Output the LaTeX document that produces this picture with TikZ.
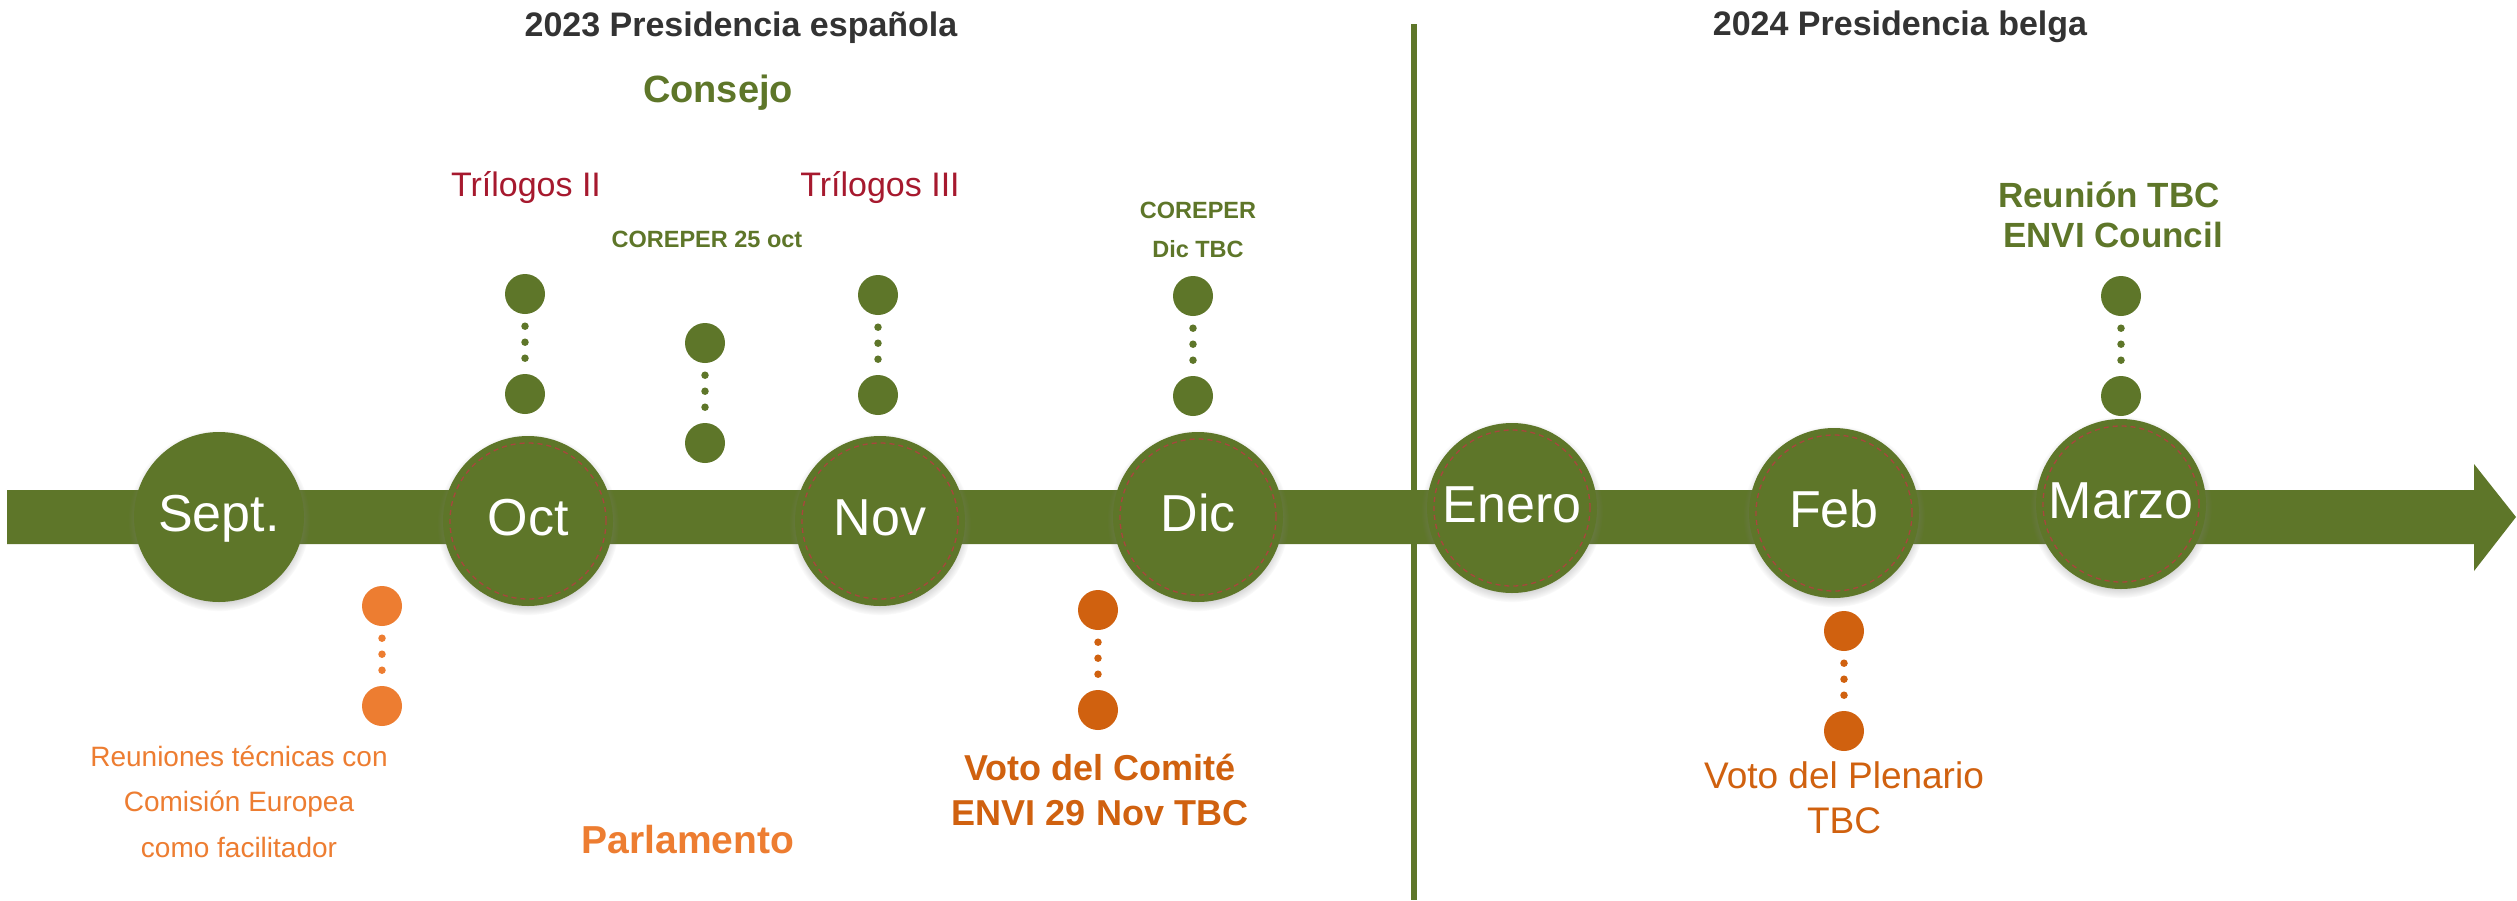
\documentclass[tikz,border=0pt]{standalone}
\usepackage{fontspec}
\setmainfont{Liberation Sans}
\usetikzlibrary{shadows}
\definecolor{gr}{HTML}{5E7629}
\definecolor{titlegray}{HTML}{333333}
\definecolor{trired}{HTML}{A6192E}
\definecolor{lorange}{HTML}{ED7D31}
\definecolor{dorange}{HTML}{D0610F}
\definecolor{ringred}{HTML}{A8463C}
\newcommand{\fs}[1]{\fontsize{#1}{#1}\selectfont}
\tikzset{
  month/.style={circle, fill=gr, minimum size=170pt, inner sep=0pt,
    circular drop shadow={shadow xshift=0pt, shadow yshift=-3pt, shadow scale=1.07, opacity=0.45},
    text=white, font=\fs{52}, text height=37pt, text depth=8pt},
  ring/.style={draw=ringred, line width=1.3pt, dash pattern=on 5pt off 4pt},
  gdot/.style={circle, fill=gr, minimum size=40pt, inner sep=0pt},
  lodot/.style={circle, fill=lorange, minimum size=40pt, inner sep=0pt},
  dodot/.style={circle, fill=dorange, minimum size=40pt, inner sep=0pt},
  dl/.style={line width=7.5pt, line cap=round, dash pattern=on 0pt off 16pt, dash phase=4pt},
  lbl/.style={anchor=base, inner sep=0pt},
  ttl/.style={lbl, text=titlegray, font=\bfseries\fs{34}},
  tri/.style={lbl, text=trired, font=\fs{34}},
  gsm/.style={lbl, text=gr, font=\bfseries\fs{23.5}},
  gbig/.style={lbl, text=gr, font=\bfseries\fs{35}},
  lo/.style={lbl, text=lorange, font=\fs{28}},
  dob/.style={lbl, text=dorange, font=\bfseries\fs{36}},
  dor/.style={lbl, text=dorange, font=\fs{37}},
}
\begin{document}
\begin{tikzpicture}[x=1pt,y=-1pt]
\useasboundingbox (0,0) rectangle (2517,900);
\fill[white] (0,0) rectangle (2517,900);

% divider
\coordinate (divtop) at (1414,24);
\coordinate (divbot) at (1414,900);
\draw[gr, line width=6pt] (divtop) -- (divbot);

% timeline arrow
\fill[gr] (7,490) -- (2474,490) -- (2474,464) -- (2516,517) -- (2474,571) -- (2474,544) -- (7,544) -- cycle;

% months
\node[month] (sep) at (219,517) {Sept.};
\node[month] (oct) at (528,521) {Oct};
\node[month] (nov) at (880,521) {Nov};
\node[month] (dic) at (1198,517) {Dic};
\node[month] (ene) at (1512,508) {Enero};
\node[month] (feb) at (1834,513) {Feb};
\node[month] (mar) at (2121,504) {Marzo};
\foreach \m in {oct,nov,dic,ene,feb,mar}
  \draw[ring] (\m) circle[radius=78pt];

% connector dots (lines first, dots on top)
\coordinate (c1t) at (525,294);  \coordinate (c1b) at (525,394);
\coordinate (c2t) at (705,343);  \coordinate (c2b) at (705,443);
\coordinate (c3t) at (878,295);  \coordinate (c3b) at (878,395);
\coordinate (c4t) at (1193,296); \coordinate (c4b) at (1193,396);
\coordinate (c5t) at (2121,296); \coordinate (c5b) at (2121,396);
\coordinate (p1t) at (382,606);  \coordinate (p1b) at (382,706);
\coordinate (p2t) at (1098,610); \coordinate (p2b) at (1098,710);
\coordinate (p3t) at (1844,631); \coordinate (p3b) at (1844,731);

\node[gdot] (d1t) at (c1t) {}; \node[gdot] (d1b) at (c1b) {};
\node[gdot] (d2t) at (c2t) {}; \node[gdot] (d2b) at (c2b) {};
\node[gdot] (d3t) at (c3t) {}; \node[gdot] (d3b) at (c3b) {};
\node[gdot] (d4t) at (c4t) {}; \node[gdot] (d4b) at (c4b) {};
\node[gdot] (d5t) at (c5t) {}; \node[gdot] (d5b) at (c5b) {};
\node[lodot] (e1t) at (p1t) {}; \node[lodot] (e1b) at (p1b) {};
\node[dodot] (e2t) at (p2t) {}; \node[dodot] (e2b) at (p2b) {};
\node[dodot] (e3t) at (p3t) {}; \node[dodot] (e3b) at (p3b) {};

\draw[dl, gr] (d1t.south) -- (d1b.north);
\draw[dl, gr] (d2t.south) -- (d2b.north);
\draw[dl, gr] (d3t.south) -- (d3b.north);
\draw[dl, gr] (d4t.south) -- (d4b.north);
\draw[dl, gr] (d5t.south) -- (d5b.north);
\draw[dl, lorange] (e1t.south) -- (e1b.north);
\draw[dl, dorange] (e2t.south) -- (e2b.north);
\draw[dl, dorange] (e3t.south) -- (e3b.north);

% titles
\node[ttl] (t23) at (741,36) {2023 Presidencia española};
\node[ttl] (t24) at (1900,35) {2024 Presidencia belga};
\node[lbl, text=gr, font=\bfseries\fs{38}] (consejo) at (718,102) {Consejo};
\node[lbl, text=lorange, font=\bfseries\fs{39}] (parl) at (688,853) {Parlamento};

% upper labels
\node[tri] (tri2) at (526,196) {Trílogos II};
\node[tri] (tri3) at (880,196) {Trílogos III};
\node[gsm] (cor25) at (707,247) {COREPER 25 oct};
\node[gsm] (cord1) at (1198,218) {COREPER};
\node[gsm] (cord2) at (1198,257) {Dic TBC};
\node[gbig] (reu1) at (2109,207) {Reunión TBC};
\node[gbig] (reu2) at (2113,247) {ENVI Council};

% lower labels
\node[lo] (rt1) at (239,766) {Reuniones técnicas con};
\node[lo] (rt2) at (239,811) {Comisión Europea};
\node[lo] (rt3) at (239,857) {como facilitador};
\node[dob] (vc1) at (1100,780) {Voto del Comité};
\node[dob] (vc2) at (1100,825) {ENVI 29 Nov TBC};
\node[dor] (vp1) at (1844,788) {Voto del Plenario};
\node[dor] (vp2) at (1844,833) {TBC};
\end{tikzpicture}
\end{document}
